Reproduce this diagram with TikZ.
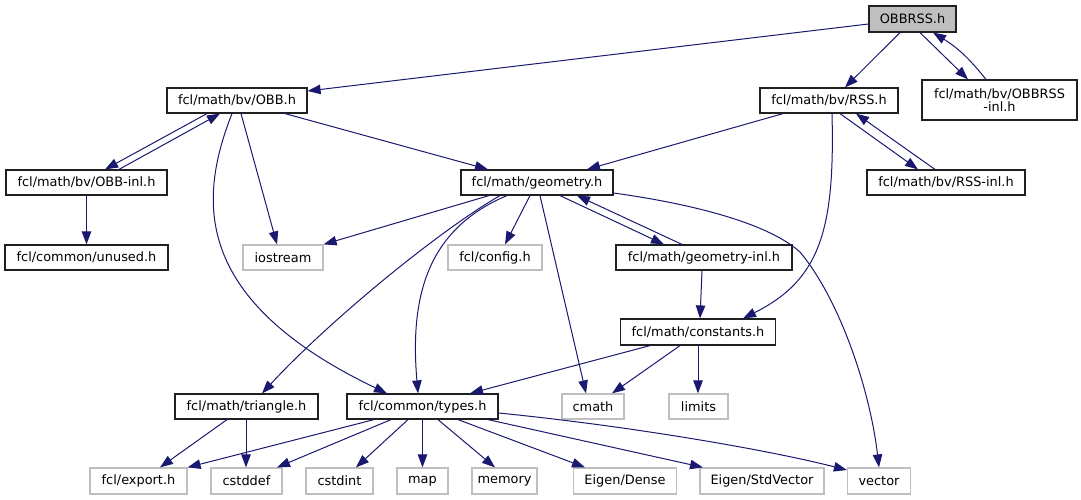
\documentclass[tikz,border=0pt]{standalone}
\usepackage{fontspec}
\setmainfont{DejaVu Sans}
\usetikzlibrary{arrows.meta}
\definecolor{edgeblue}{HTML}{191970}
\definecolor{greyb}{HTML}{BFBFBF}
\definecolor{boxline}{HTML}{202020}
\begin{document}
\begin{tikzpicture}[x=1pt,y=-1pt,
  box/.style={draw=boxline,line width=1.2pt,fill=white,inner sep=0pt,minimum height=25pt,
    font=\fontsize{12.9}{14}\selectfont,align=center},
  extbox/.style={box,draw=greyb},
  mainbox/.style={box,fill=greyb},
  dep/.style={draw=edgeblue,line width=1pt,-{Triangle[length=13pt,width=9.5pt]}}]
\useasboundingbox (0,0) rectangle (1081,500);
% nodes
\node[mainbox,minimum width=87pt,minimum height=26pt] (obbrss) at (912.5,19) {OBBRSS.h};
\node[box,minimum width=140pt] (obb) at (237,100.5) {fcl/math/bv/OBB.h};
\node[box,minimum width=161pt] (obbinl) at (86.5,182.5) {fcl/math/bv/OBB-inl.h};
\node[box,minimum width=163pt] (unused) at (86.5,257.5) {fcl/common/unused.h};
\node[extbox,minimum width=80pt] (iostream) at (283,257.5) {iostream};
\node[box,minimum width=152pt] (geometry) at (537,182.5) {fcl/math/geometry.h};
\node[extbox,minimum width=94pt] (config) at (495,257.5) {fcl/config.h};
\node[box,minimum width=138pt] (rss) at (829,100.5) {fcl/math/bv/RSS.h};
\node[box,minimum width=155pt,minimum height=40pt] (obbrssinl) at (999.5,100) {fcl/math/bv/OBBRSS\\[-1pt]-inl.h};
\node[box,minimum width=158pt] (rssinl) at (946,182.5) {fcl/math/bv/RSS-inl.h};
\node[box,minimum width=176pt] (geominl) at (704,257.5) {fcl/math/geometry-inl.h};
\node[box,minimum width=155pt,minimum height=26pt] (constants) at (698,332) {fcl/math/constants.h};
\node[extbox,minimum width=62pt] (cmath) at (593,406.5) {cmath};
\node[extbox,minimum width=59pt] (limits) at (698.5,406.5) {limits};
\node[box,minimum width=143pt] (triangle) at (246.5,406.5) {fcl/math/triangle.h};
\node[box,minimum width=151pt] (types) at (422.5,406.5) {fcl/common/types.h};
\node[extbox,minimum width=97pt,minimum height=26pt] (export) at (138.5,481) {fcl/export.h};
\node[extbox,minimum width=71pt,minimum height=26pt] (cstddef) at (246.5,481) {cstddef};
\node[extbox,minimum width=67pt,minimum height=26pt] (cstdint) at (339.5,481) {cstdint};
\node[extbox,minimum width=51pt,minimum height=26pt] (map) at (422.5,481) {map};
\node[extbox,minimum width=65pt,minimum height=26pt] (memory) at (504.5,481) {memory};
\node[extbox,minimum width=103pt,minimum height=26pt] (dense) at (625,481) {Eigen/Dense};
\node[extbox,minimum width=124pt,minimum height=26pt] (stdvec) at (762,481) {Eigen/StdVector};
\node[extbox,minimum width=63pt,minimum height=26pt] (vector) at (879,481) {vector};
\coordinate (vbend) at (800,252);
% edges
\draw[dep] (obbrss.west |- 0,24) -- (obb.east |- 0,91);
\draw[dep] (obbrss.south -| 900,0) -- (rss.north -| 845,0);
\draw[dep] (obbrss.south -| 920,0) -- (obbrssinl.north -| 968,0);
\draw[dep] (obbrssinl.north -| 986,0) to[bend right=10] (obbrss.south -| 933,0);
\draw[dep] (obb.south -| 207,0) -- (obbinl.north -| 105,0);
\draw[dep] (obbinl.north -| 119,0) -- (obb.south -| 220,0);
\draw[dep] (obbinl.south) -- (unused.north);
\draw[dep] (obb.south -| 285,0) -- (geometry.north -| 488,0);
\draw[dep] (obb.south -| 241,0) -- (iostream.north -| 277,0);
\draw[dep] (obb.south -| 232,0) .. controls (198,200) and (192,300) .. (types.north -| 387,0);
\draw[dep] (rss.south -| 783,0) -- (geometry.north -| 587,0);
\draw[dep] (rss.south -| 832,0) .. controls (835,230) and (820,280) .. (constants.north -| 743,0);
\draw[dep] (rss.south -| 840,0) -- (rssinl.north -| 918,0);
\draw[dep] (rssinl.north -| 935,0) -- (rss.south -| 856,0);
\draw[dep] (geometry.south -| 489,0) -- (iostream.north east);
\draw[dep] (geometry.south -| 530,0) -- (config.north -| 505,0);
\draw[dep] (geometry.south -| 500,0) .. controls (440,230) and (330,320) .. (triangle.north -| 262,0);
\draw[dep] (geometry.south -| 507,0) .. controls (425,230) and (410,300) .. (types.north -| 418,0);
\draw[dep] (geometry.south -| 540,0) -- (cmath.north -| 586,0);
\draw[dep] (geometry.south -| 560,0) -- (geominl.north -| 664,0);
\draw[dep] (geominl.north -| 682,0) -- (geometry.south -| 577,0);
\draw[dep] (geometry.east |- 0,193) .. controls (700,205) and (770,225) .. (vbend) .. controls (840,300) and (870,390) .. (vector.north);
\draw[dep] (geominl.south -| 702,0) -- (constants.north -| 700,0);
\draw[dep] (constants.south -| 650,0) -- (types.north -| 470,0);
\draw[dep] (constants.south -| 680,0) -- (cmath.north -| 612,0);
\draw[dep] (constants.south -| 698,0) -- (limits.north -| 698,0);
\draw[dep] (triangle.south -| 227,0) -- (export.north -| 160,0);
\draw[dep] (triangle.south -| 246,0) -- (cstddef.north -| 246,0);
\draw[dep] (types.south -| 374,0) -- (export.north east);
\draw[dep] (types.south -| 391,0) -- (cstddef.north -| 277,0);
\draw[dep] (types.south -| 408,0) -- (cstdint.north -| 356,0);
\draw[dep] (types.south) -- (map.north);
\draw[dep] (types.south -| 438,0) -- (memory.north -| 495,0);
\draw[dep] (types.south -| 458,0) -- (dense.north -| 585,0);
\draw[dep] (types.south -| 488,0) -- (stdvec.north -| 703,0);
\draw[dep] (types.east |- 0,413) .. controls (620,425) and (760,448) .. (vector.west |- 0,470);
\end{tikzpicture}
\end{document}
